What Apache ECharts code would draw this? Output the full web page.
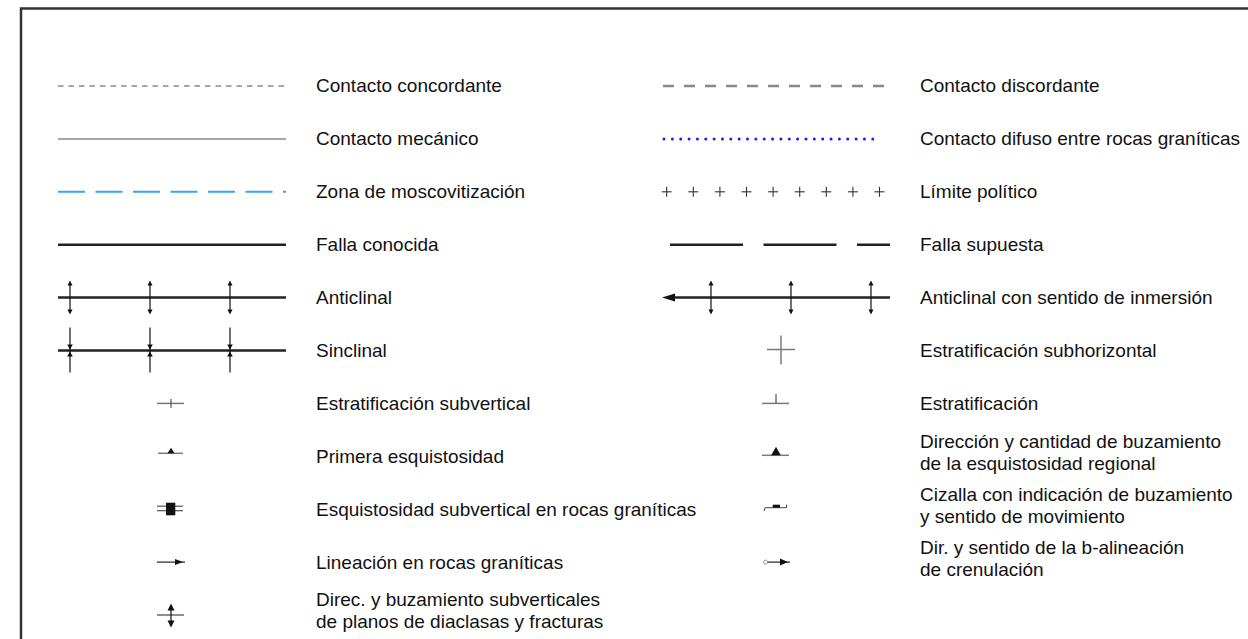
<!DOCTYPE html>
<html><head><meta charset="utf-8">
<script src="https://cdn.jsdelivr.net/npm/echarts@6/dist/echarts.min.js"></script>
<style>html,body{margin:0;padding:0;background:#fff}#c{width:1248px;height:639px}</style>
</head><body><div id="c"></div>
<script>
// Legend entries (content)
const labels = [
  'Contacto concordante',
  'Contacto discordante',
  'Contacto mecánico',
  'Contacto difuso entre rocas graníticas',
  'Zona de moscovitización',
  'Límite político',
  'Falla conocida',
  'Falla supuesta',
  'Anticlinal',
  'Anticlinal con sentido de inmersión',
  'Sinclinal',
  'Estratificación subhorizontal',
  'Estratificación subvertical',
  'Estratificación',
  'Primera esquistosidad',
  'Dirección y cantidad de buzamiento\nde la esquistosidad regional',
  'Esquistosidad subvertical en rocas graníticas',
  'Cizalla con indicación de buzamiento\ny sentido de movimiento',
  'Lineación en rocas graníticas',
  'Dir. y sentido de la b-alineación\nde crenulación',
  'Direc. y buzamiento subverticales\nde planos de diaclasas y fracturas'
];
const columns = [0,1,0,1,0,1,0,1,0,1,0,1,0,1,0,1,0,1,0,1,0];
const rows    = [0,0,1,1,2,2,3,3,4,4,5,5,6,6,7,7,8,8,9,9,10];
const symbolKinds = [
  'dotted','dashed','solid','bluedots','bluedash','pluses','fault','faultdash',
  'anticline','plunge','syncline','bigcross','subvert','strat','schist1','schistreg',
  'schistgran','shear','lineation','crenul','joints'
];

const data = labels.map((l, i) => [columns[i], rows[i], i]);

function renderItem(params, api) {
  const i = api.value(2);
  const p = api.coord([api.value(0), api.value(1)]);
  const cx = p[0], cy = p[1];
  const ch = [];
  const L = (x1, y1, x2, y2, st) => ch.push({type: 'line', shape: {x1, y1, x2, y2}, style: Object.assign({fill: null, stroke: '#111', lineWidth: 1.2}, st || {})});
  const P = (pts, color) => ch.push({type: 'polygon', shape: {points: pts}, style: {fill: color || '#111'}});
  const x0 = cx - 113, x1 = cx + 115;
  const thick = {stroke: '#222', lineWidth: 2.5};
  const gray = {stroke: '#7a7a7a', lineWidth: 1.5};
  const dbl = (x) => {
    L(x, cy - 15, x, cy + 15);
    P([[x, cy - 17], [x - 2.5, cy - 12], [x + 2.5, cy - 12]]);
    P([[x, cy + 17], [x - 2.5, cy + 12], [x + 2.5, cy + 12]]);
  };
  switch (symbolKinds[i]) {
    case 'dotted': L(x0, cy, x1, cy, {stroke: '#888', lineWidth: 1.5, lineDash: [5.5, 5]}); break;
    case 'dashed': L(cx - 112, cy, cx + 113, cy, {stroke: '#888', lineWidth: 2.4, lineDash: [11, 10]}); break;
    case 'solid': L(x0, cy, x1, cy, {stroke: '#888', lineWidth: 1.5}); break;
    case 'bluedots': L(cx - 111, cy, cx + 106, cy, {stroke: '#1c1cf0', lineWidth: 3, lineDash: [0.001, 8.35], lineCap: 'round'}); break;
    case 'bluedash': L(x0, cy, x1, cy, {stroke: '#3ba3f0', lineWidth: 2, lineDash: [27, 10.5]}); break;
    case 'pluses':
      for (let k = 0; k < 9; k++) {
        const x = cx - 108.3 + 26.6 * k;
        L(x - 5, cy, x + 5, cy, {stroke: '#333', lineWidth: 1.1});
        L(x, cy - 5, x, cy + 5, {stroke: '#333', lineWidth: 1.1});
      }
      break;
    case 'fault': L(x0, cy, x1, cy, thick); break;
    case 'faultdash': L(cx - 105, cy, x1, cy, Object.assign({lineDash: [73, 20.5]}, thick)); break;
    case 'anticline':
      L(x0, cy, x1, cy, thick);
      [-101, -21, 59].forEach(d => dbl(cx + d));
      break;
    case 'plunge':
      L(cx - 104, cy, x1, cy, thick);
      P([[cx - 113, cy], [cx - 100, cy - 4], [cx - 100, cy + 4]]);
      [-64, 16, 96].forEach(d => dbl(cx + d));
      break;
    case 'syncline':
      L(x0, cy, x1, cy, thick);
      [-101, -21, 59].forEach(d => {
        const x = cx + d;
        L(x, cy - 23, x, cy + 22);
        P([[x, cy - 1], [x - 2.8, cy - 6], [x + 2.8, cy - 6]]);
        P([[x, cy + 1], [x - 2.8, cy + 6], [x + 2.8, cy + 6]]);
      });
      break;
    case 'bigcross':
      L(cx - 8, cy - 1, cx + 20, cy - 1, gray);
      L(cx + 6, cy - 15, cx + 6, cy + 14, gray);
      break;
    case 'subvert':
      L(cx - 14, cy, cx + 13, cy, gray);
      L(cx, cy - 4.5, cx, cy + 4.5, {stroke: '#333', lineWidth: 1});
      break;
    case 'strat':
      L(cx - 13, cy, cx + 14, cy, gray);
      L(cx + 1, cy - 9.5, cx + 1, cy, {stroke: '#333', lineWidth: 1});
      break;
    case 'schist1':
      L(cx - 13, cy - 3, cx + 12, cy - 3, gray);
      P([[cx, cy - 8.5], [cx - 3.5, cy - 3], [cx + 3.5, cy - 3]]);
      break;
    case 'schistreg':
      L(cx - 13, cy - 1, cx + 14, cy - 1, gray);
      P([[cx + 1, cy - 9.5], [cx - 3.8, cy - 1], [cx + 5.8, cy - 1]]);
      break;
    case 'schistgran':
      L(cx - 14, cy - 3, cx + 12, cy - 3, {stroke: '#555', lineWidth: 1.2});
      L(cx - 14, cy + 1.5, cx + 12, cy + 1.5, {stroke: '#555', lineWidth: 1.2});
      ch.push({type: 'rect', shape: {x: cx - 5, y: cy - 6.5, width: 9.3, height: 12.6}, style: {fill: '#111'}});
      break;
    case 'shear':
      L(cx - 10, cy - 1.5, cx + 11.5, cy - 1.5, {stroke: '#444', lineWidth: 1});
      ch.push({type: 'rect', shape: {x: cx - 2.3, y: cy - 4.5, width: 7.3, height: 3}, style: {fill: '#111'}});
      L(cx - 10, cy - 1.5, cx - 11, cy + 2, {stroke: '#444', lineWidth: 1});
      L(cx + 11.5, cy - 1.5, cx + 11.5, cy - 4.5, {stroke: '#444', lineWidth: 1});
      break;
    case 'lineation':
      L(cx - 14, cy, cx + 14, cy, {stroke: '#222', lineWidth: 1.2});
      P([[cx + 12, cy], [cx + 4, cy - 3], [cx + 4, cy + 3]]);
      break;
    case 'crenul':
      ch.push({type: 'circle', shape: {cx: cx - 9.3, cy: cy, r: 2}, style: {fill: '#fff', stroke: '#888', lineWidth: 1}});
      L(cx - 7.3, cy, cx + 15, cy, {stroke: '#222', lineWidth: 1.2});
      P([[cx + 13, cy], [cx + 5, cy - 3.5], [cx + 5, cy + 3.5]]);
      break;
    case 'joints':
      L(cx - 14, cy, cx + 13, cy, {stroke: '#444', lineWidth: 1.2});
      L(cx, cy - 10, cx, cy + 11);
      P([[cx, cy - 11.5], [cx - 3.5, cy - 4.5], [cx + 3.5, cy - 4.5]]);
      P([[cx, cy + 12.5], [cx - 3.5, cy + 5.5], [cx + 3.5, cy + 5.5]]);
      break;
  }
  const multi = labels[i].indexOf('\n') >= 0;
  ch.push({
    type: 'text', x: cx + 145, y: cy - (multi ? 4 : 0),
    style: {text: labels[i], fontSize: 19, fontFamily: '"Liberation Sans", Arial, sans-serif', fill: '#111', verticalAlign: 'middle', align: 'left', lineHeight: 22}
  });
  return {type: 'group', children: ch};
}

const chart = echarts.init(document.getElementById('c'), null, {renderer: 'svg'});
chart.setOption({
  animation: false,
  backgroundColor: '#fff',
  grid: {left: 0, right: 0, top: 0, bottom: 0},
  xAxis: {type: 'value', min: -0.28311, max: 1.78311, show: false},
  yAxis: {type: 'value', inverse: true, min: -1.6257, max: 10.4537, show: false},
  graphic: [{type: 'rect', shape: {x: 21, y: 8.5, width: 1400, height: 800}, style: {fill: null, stroke: '#333', lineWidth: 2.5}}],
  series: [{type: 'custom', renderItem: renderItem, data: data, clip: false}]
});
</script>
</body></html>
